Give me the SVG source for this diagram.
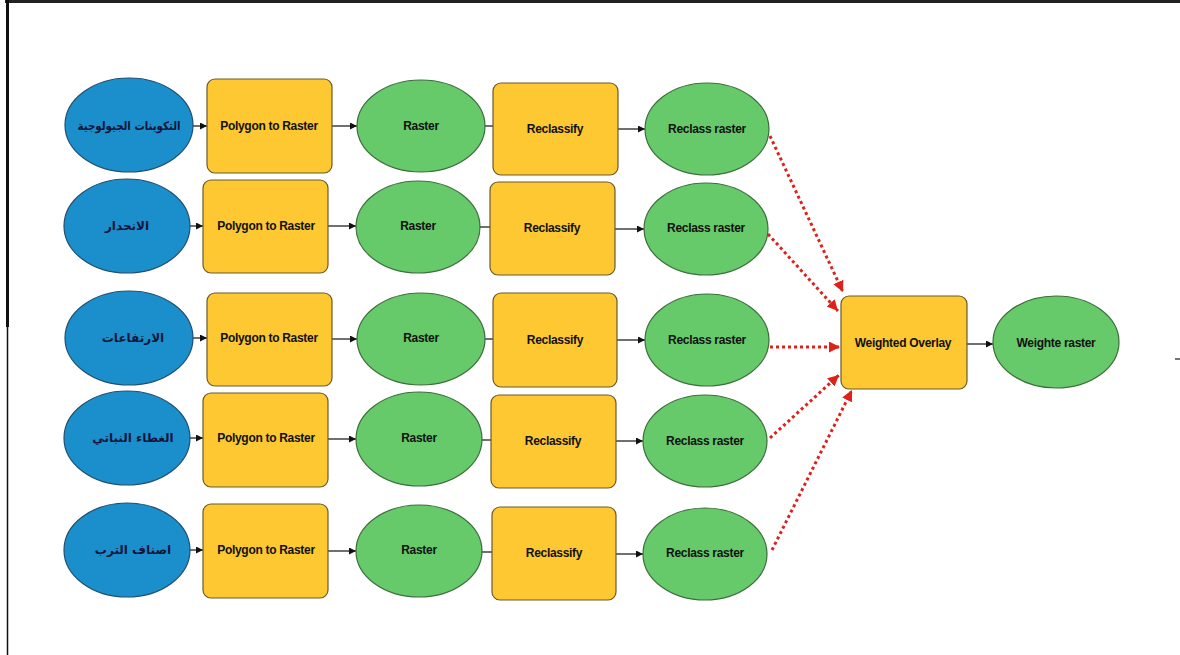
<svg xmlns="http://www.w3.org/2000/svg" width="1180" height="655" viewBox="0 0 1180 655">
<defs>
<style>
.bg{fill:#ffffff}
.inp{fill:#1b8fcb;stroke:#1f4f70;stroke-width:1.2}
.tool{fill:#fdc832;stroke:#6b5a2a;stroke-width:1.2}
.data{fill:#66c96a;stroke:#3c6e3c;stroke-width:1.2}
.t{font-family:"Liberation Sans",Arial,sans-serif;font-weight:bold;font-size:12px;fill:#111;text-anchor:middle;letter-spacing:-0.3px}
.ar{font-family:"DejaVu Sans","Noto Sans",sans-serif;font-weight:bold;font-size:12px;fill:#14143a;text-anchor:middle}
.c{stroke:#222;stroke-width:1.3;fill:none}
.ca{stroke:#222;stroke-width:1.3;fill:none;marker-end:url(#ah)}
.r{stroke:#e0201b;stroke-width:3;fill:none;stroke-dasharray:3 3;marker-end:url(#rh)}
</style>
<marker id="ah" markerUnits="userSpaceOnUse" markerWidth="8" markerHeight="8" refX="7" refY="3.5" orient="auto">
<path d="M0,0 L7,3.5 L0,7 z" fill="#111"/>
</marker>
<marker id="rh" markerUnits="userSpaceOnUse" markerWidth="12" markerHeight="12" refX="11" refY="5.5" orient="auto">
<path d="M0,0 L11,5.5 L0,11 z" fill="#e0201b"/>
</marker>
</defs>
<rect class="bg" x="0" y="0" width="1180" height="655"/>
<g id="frame">
<line x1="5" y1="1.5" x2="1180" y2="1.5" stroke="#222" stroke-width="3"/>
<line x1="7.5" y1="0" x2="7.5" y2="327" stroke="#111" stroke-width="3"/>
<line x1="7.5" y1="327" x2="7.5" y2="655" stroke="#111" stroke-width="1.5"/>
<line x1="1175" y1="359" x2="1180" y2="359" stroke="#444" stroke-width="1.5"/>
</g>
<g id="connectors">
<line class="ca" x1="193" y1="126" x2="207" y2="126"/>
<line class="ca" x1="332" y1="126" x2="357" y2="126"/>
<line class="c" x1="485" y1="126" x2="493" y2="126"/>
<line class="ca" x1="618" y1="129" x2="645" y2="129"/>
<line class="ca" x1="190" y1="226" x2="203" y2="226"/>
<line class="ca" x1="328" y1="226" x2="356" y2="226"/>
<line class="c" x1="480" y1="227" x2="490" y2="227"/>
<line class="ca" x1="615" y1="229" x2="644" y2="229"/>
<line class="ca" x1="193" y1="338" x2="207" y2="338"/>
<line class="ca" x1="332" y1="339" x2="357" y2="339"/>
<line class="c" x1="485" y1="339" x2="493" y2="339"/>
<line class="ca" x1="617" y1="340" x2="645" y2="340"/>
<line class="ca" x1="190" y1="438" x2="203" y2="438"/>
<line class="ca" x1="328" y1="439" x2="356" y2="439"/>
<line class="c" x1="482" y1="440" x2="491" y2="440"/>
<line class="ca" x1="616" y1="441" x2="643" y2="441"/>
<line class="ca" x1="190" y1="550" x2="203" y2="550"/>
<line class="ca" x1="328" y1="551" x2="356" y2="551"/>
<line class="c" x1="482" y1="552" x2="492" y2="552"/>
<line class="ca" x1="616" y1="554" x2="643" y2="554"/>
<line class="r" x1="770" y1="136" x2="843" y2="292"/>
<line class="r" x1="768" y1="234" x2="838" y2="311"/>
<line class="r" x1="770" y1="347" x2="840" y2="347"/>
<line class="r" x1="770" y1="438" x2="839" y2="375"/>
<line class="r" x1="772" y1="550" x2="852" y2="390"/>
<line class="ca" x1="967" y1="344" x2="993" y2="344"/>
</g>
<g id="n1a"><ellipse class="inp" cx="129" cy="125" rx="64" ry="47"/><text class="ar" x="129" y="130" textLength="103" lengthAdjust="spacingAndGlyphs">التكوينات الجيولوجية</text></g>
<g id="n1b"><rect class="tool" x="207" y="79" width="125" height="94" rx="8"/><text class="t" x="269" y="130">Polygon to Raster</text></g>
<g id="n1c"><ellipse class="data" cx="421" cy="126" rx="64" ry="46"/><text class="t" x="421" y="130">Raster</text></g>
<g id="n1d"><rect class="tool" x="493" y="83" width="125" height="92" rx="8"/><text class="t" x="555" y="133">Reclassify</text></g>
<g id="n1e"><ellipse class="data" cx="707" cy="129" rx="62" ry="46"/><text class="t" x="707" y="133">Reclass raster</text></g>

<g id="n2a"><ellipse class="inp" cx="127" cy="226" rx="63" ry="47"/><text class="ar" x="127" y="230">الانحدار</text></g>
<g id="n2b"><rect class="tool" x="203" y="180" width="125" height="93" rx="8"/><text class="t" x="266" y="230">Polygon to Raster</text></g>
<g id="n2c"><ellipse class="data" cx="418" cy="227" rx="62" ry="46"/><text class="t" x="418" y="230">Raster</text></g>
<g id="n2d"><rect class="tool" x="490" y="182" width="125" height="93" rx="8"/><text class="t" x="552" y="232">Reclassify</text></g>
<g id="n2e"><ellipse class="data" cx="706" cy="229" rx="62" ry="46"/><text class="t" x="706" y="232">Reclass raster</text></g>

<g id="n3a"><ellipse class="inp" cx="129" cy="338" rx="64" ry="47"/><text class="ar" x="133" y="342">الارتفاعات</text></g>
<g id="n3b"><rect class="tool" x="207" y="293" width="125" height="93" rx="8"/><text class="t" x="269" y="342">Polygon to Raster</text></g>
<g id="n3c"><ellipse class="data" cx="421" cy="339" rx="64" ry="46"/><text class="t" x="421" y="342">Raster</text></g>
<g id="n3d"><rect class="tool" x="493" y="293" width="124" height="94" rx="8"/><text class="t" x="555" y="344">Reclassify</text></g>
<g id="n3e"><ellipse class="data" cx="707" cy="340" rx="62" ry="46"/><text class="t" x="707" y="344">Reclass raster</text></g>

<g id="n4a"><ellipse class="inp" cx="127" cy="438" rx="63" ry="47"/><text class="ar" x="133" y="442">الغطاء النباتي</text></g>
<g id="n4b"><rect class="tool" x="203" y="393" width="125" height="94" rx="8"/><text class="t" x="266" y="442">Polygon to Raster</text></g>
<g id="n4c"><ellipse class="data" cx="419" cy="439" rx="63" ry="47"/><text class="t" x="419" y="442">Raster</text></g>
<g id="n4d"><rect class="tool" x="491" y="395" width="125" height="93" rx="8"/><text class="t" x="553" y="445">Reclassify</text></g>
<g id="n4e"><ellipse class="data" cx="705" cy="441" rx="62" ry="46"/><text class="t" x="705" y="445">Reclass raster</text></g>

<g id="n5a"><ellipse class="inp" cx="127" cy="550" rx="63" ry="47"/><text class="ar" x="133" y="554">اصناف الترب</text></g>
<g id="n5b"><rect class="tool" x="203" y="504" width="125" height="94" rx="8"/><text class="t" x="266" y="554">Polygon to Raster</text></g>
<g id="n5c"><ellipse class="data" cx="419" cy="551" rx="63" ry="46"/><text class="t" x="419" y="554">Raster</text></g>
<g id="n5d"><rect class="tool" x="492" y="507" width="124" height="93" rx="8"/><text class="t" x="554" y="557">Reclassify</text></g>
<g id="n5e"><ellipse class="data" cx="705" cy="554" rx="62" ry="46"/><text class="t" x="705" y="557">Reclass raster</text></g>

<g id="n6"><rect class="tool" x="841" y="296" width="126" height="93" rx="8"/><text class="t" x="903" y="347">Weighted Overlay</text></g>
<g id="n7"><ellipse class="data" cx="1056" cy="342" rx="63" ry="46"/><text class="t" x="1056" y="347">Weighte raster</text></g>
</svg>
